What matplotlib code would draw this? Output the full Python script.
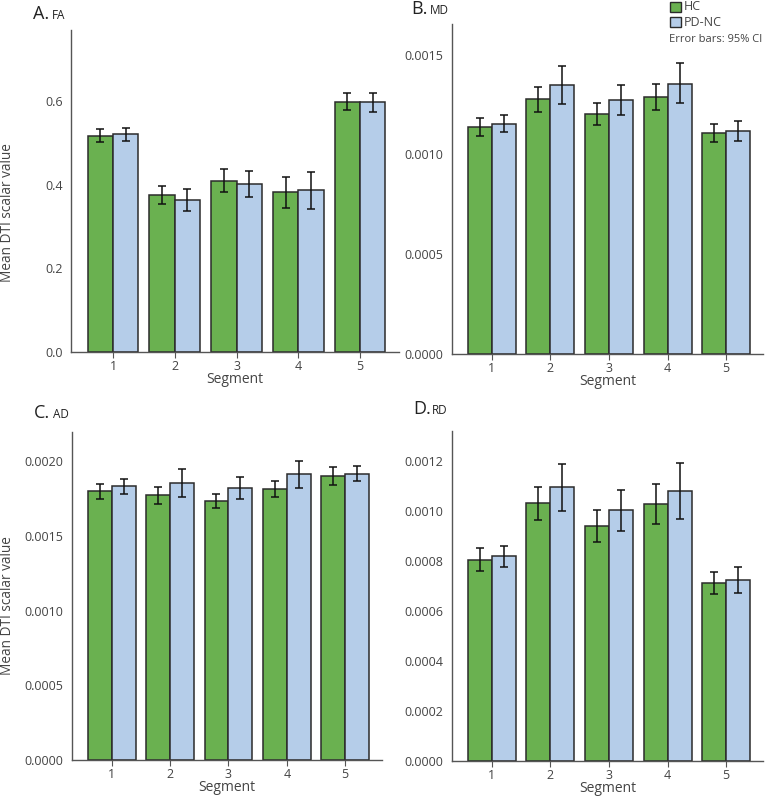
import matplotlib
matplotlib.use("Agg")
import matplotlib.pyplot as plt
import numpy as np

plt.rcParams['font.family'] = ['Open Sans', 'DejaVu Sans']

segments = [1, 2, 3, 4, 5]

# FA
fa_hc = [0.517, 0.375, 0.410, 0.382, 0.598]
fa_hc_lo = [0.502, 0.353, 0.383, 0.345, 0.578]
fa_hc_hi = [0.533, 0.397, 0.437, 0.419, 0.619]
fa_pd = [0.521, 0.363, 0.402, 0.387, 0.597]
fa_pd_lo = [0.505, 0.338, 0.371, 0.342, 0.573]
fa_pd_hi = [0.536, 0.389, 0.432, 0.431, 0.620]

# MD
md_hc = [0.001137, 0.001277, 0.001203, 0.001290, 0.001108]
md_hc_lo = [0.001092, 0.001215, 0.001147, 0.001223, 0.001063]
md_hc_hi = [0.001183, 0.001338, 0.001260, 0.001355, 0.001153]
md_pd = [0.001155, 0.001348, 0.001275, 0.001355, 0.001120]
md_pd_lo = [0.001112, 0.001255, 0.001200, 0.001257, 0.001070]
md_pd_hi = [0.001198, 0.001442, 0.001350, 0.001457, 0.001170]

# AD
ad_hc = [0.001802, 0.001771, 0.001735, 0.001817, 0.001900]
ad_hc_lo = [0.001748, 0.001717, 0.001684, 0.001764, 0.001842]
ad_hc_hi = [0.001851, 0.001829, 0.001782, 0.001869, 0.001960]
ad_pd = [0.001833, 0.001857, 0.001822, 0.001913, 0.001918]
ad_pd_lo = [0.001780, 0.001762, 0.001746, 0.001820, 0.001866]
ad_pd_hi = [0.001884, 0.001951, 0.001895, 0.002002, 0.001971]

# RD
rd_hc = [0.000805, 0.001031, 0.000940, 0.001027, 0.000713]
rd_hc_lo = [0.000761, 0.000965, 0.000877, 0.000947, 0.000668]
rd_hc_hi = [0.000851, 0.001095, 0.001003, 0.001107, 0.000757]
rd_pd = [0.000819, 0.001095, 0.001003, 0.001080, 0.000723]
rd_pd_lo = [0.000776, 0.001001, 0.000921, 0.000967, 0.000671]
rd_pd_hi = [0.000859, 0.001189, 0.001083, 0.001192, 0.000775]

green = '#6ab150'
blue = '#b5cde9'
edge = '#2b2b2b'
W, H = 766, 796

fig = plt.figure(figsize=(W / 100, H / 100), dpi=100)


def px_axes(left, right, top, bottom):
    return fig.add_axes([left / W, 1 - bottom / H, (right - left) / W, (bottom - top) / H])


panels = [
    ('A.', 'FA', (71, 399, 30, 352), (0, 0.77), [0, 0.2, 0.4, 0.6], '%.1f', 213,
     fa_hc, fa_hc_lo, fa_hc_hi, fa_pd, fa_pd_lo, fa_pd_hi, (33, 19)),
    ('B.', 'MD', (452, 763, 24, 354), (0, 0.001654), [0, 0.0005, 0.0010, 0.0015], '%.4f', None,
     md_hc, md_hc_lo, md_hc_hi, md_pd, md_pd_lo, md_pd_hi, (411, 14)),
    ('C.', 'AD', (72, 382, 432, 760), (0, 0.002196), [0, 0.0005, 0.0010, 0.0015, 0.0020], '%.4f', 606,
     ad_hc, ad_hc_lo, ad_hc_hi, ad_pd, ad_pd_lo, ad_pd_hi, (34, 418)),
    ('D.', 'RD', (452, 763, 431, 761), (0, 0.00132), [0, 0.0002, 0.0004, 0.0006, 0.0008, 0.0010, 0.0012], '%.4f', None,
     rd_hc, rd_hc_lo, rd_hc_hi, rd_pd, rd_pd_lo, rd_pd_hi, (413, 414)),
]

bw = 0.41
x = np.array(segments)
for (letter, name, box, ylim, yt, fmt, ylab_y,
     hc, hlo, hhi, pd_, plo, phi, tpos) in panels:
    ax = px_axes(*box)
    hc = np.array(hc); pd_ = np.array(pd_)
    ax.bar(x - bw / 2, hc, bw, color=green, edgecolor=edge, linewidth=1.1)
    ax.bar(x + bw / 2, pd_, bw, color=blue, edgecolor=edge, linewidth=1.1)
    ax.errorbar(x - bw / 2, hc, yerr=[hc - np.array(hlo), np.array(hhi) - hc],
                fmt='none', ecolor='#111111', elinewidth=1.1, capsize=2.7, capthick=1.1)
    ax.errorbar(x + bw / 2, pd_, yerr=[pd_ - np.array(plo), np.array(phi) - pd_],
                fmt='none', ecolor='#111111', elinewidth=1.1, capsize=2.7, capthick=1.1)
    ax.set_xlim(0.32, 5.63)
    ax.set_ylim(*ylim)
    ax.set_yticks(yt)
    ax.set_yticklabels([fmt % v for v in yt])
    ax.set_xticks(segments)
    ax.tick_params(axis='y', length=0, labelsize=9, labelcolor='#444444', pad=6)
    ax.tick_params(axis='x', length=4, color='#555555', labelsize=9, labelcolor='#444444', pad=2)
    for s in ['top', 'right']:
        ax.spines[s].set_visible(False)
    for s in ['left', 'bottom']:
        ax.spines[s].set_color('#555555')
        ax.spines[s].set_linewidth(1.0)
    ax.set_xlabel('Segment', fontsize=10, color='#444444', labelpad=-1)
    if ylab_y is not None:
        fig.text(8 / W, 1 - ylab_y / H, 'Mean DTI scalar value', fontsize=9.8, color='#444444',
                 rotation=90, ha='center', va='center')
    fig.text(tpos[0] / W, 1 - tpos[1] / H, letter, fontsize=13, color='#222222', va='baseline')
    fig.text((tpos[0] + 19) / W, 1 - tpos[1] / H, name, fontsize=8.5, color='#222222', va='baseline')

# legend
fig.patches.append(plt.Rectangle((670 / W, 1 - 12 / H), 11 / W, 10 / H, transform=fig.transFigure,
                                 facecolor=green, edgecolor=edge, linewidth=1.0))
fig.patches.append(plt.Rectangle((670 / W, 1 - 27 / H), 11 / W, 10 / H, transform=fig.transFigure,
                                 facecolor=blue, edgecolor=edge, linewidth=1.0))
fig.text(684 / W, 1 - 7 / H, 'HC', fontsize=9, color='#444444', va='center')
fig.text(684 / W, 1 - 22 / H, 'PD-NC', fontsize=9, color='#444444', va='center')
fig.text(669 / W, 1 - 39 / H, 'Error bars: 95% CI', fontsize=8, color='#444444', va='center')

fig.savefig('out.png', dpi=100)
